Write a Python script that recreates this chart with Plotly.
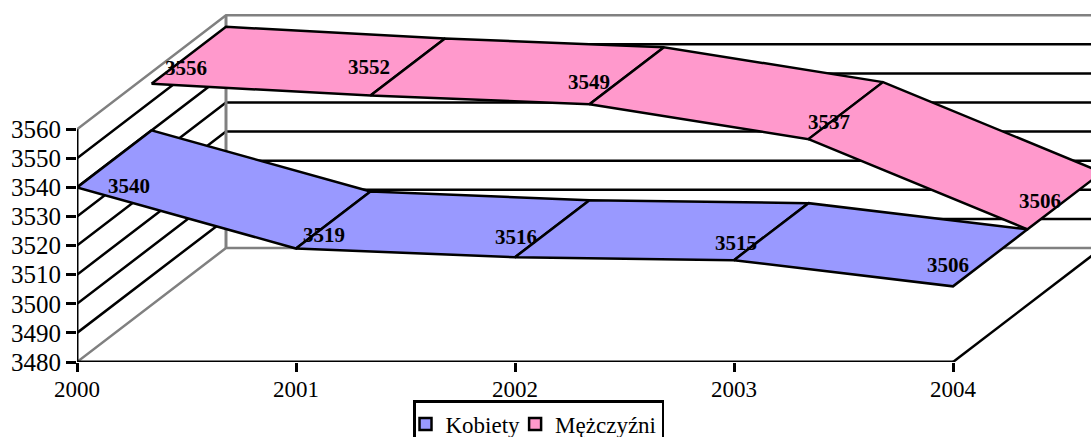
import plotly.graph_objects as go

years = ["2000", "2001", "2002", "2003", "2004"]
kobiety = [3540, 3519, 3516, 3515, 3506]
mezczyzni = [3556, 3552, 3549, 3537, 3506]
value_ticks = [3480, 3490, 3500, 3510, 3520, 3530, 3540, 3550, 3560]

# oblique projection of the depth axis, in axis units
PX_PER_CAT = 219.0
PX_PER_VAL = 2.91
DEPTH_X = 149 / PX_PER_CAT
DEPTH_Y = 114 / PX_PER_VAL
LEFT, BOTTOM_Y, W, H = 77, 362, 1091, 437

# pixel nudges of the data labels relative to the ribbon's front corner
shift_k = [(52, -1), (28, -14), (1, -20), (2, -17), (-5, -21)]
shift_m = [(34, -16), (-2, -28), (-1, -22), (20, -17), (12, -28)]

FONT = "Liberation Serif"
GRAY = "#808080"
BLACK = "#000000"


def proj(i, v, d):
    return i + d * DEPTH_X, v + d * DEPTH_Y


fig = go.Figure()


def line(pts, color=BLACK, width=2.5):
    xs, ys = zip(*pts)
    fig.add_trace(go.Scatter(x=xs, y=ys, mode="lines", showlegend=False,
                             hoverinfo="skip", cliponaxis=False,
                             line=dict(color=color, width=width)))


n = len(years)
lo, hi = value_ticks[0], value_ticks[-1]

# walls
for v in value_ticks:
    c = GRAY if v in (lo, hi) else BLACK
    line([proj(0, v, 0), proj(0, v, 1), proj(n - 1, v, 1)], c)
line([proj(0, lo, 1), proj(0, hi, 1)], GRAY, 3)
# front frame
line([proj(n - 1, lo, 0), proj(n - 1, lo, 1)])
line([proj(0, lo, 0), proj(0, hi, 0)], BLACK, 3)
line([proj(0, lo, 0), proj(n - 1, lo, 0)], BLACK, 3)


def ribbon(values, d0, d1, color):
    for i in range(n - 1):
        pts = [proj(i, values[i], d0), proj(i + 1, values[i + 1], d0),
               proj(i + 1, values[i + 1], d1), proj(i, values[i], d1),
               proj(i, values[i], d0)]
        xs, ys = zip(*pts)
        fig.add_trace(go.Scatter(x=xs, y=ys, mode="lines", fill="toself",
                                 fillcolor=color, showlegend=False,
                                 hoverinfo="skip", cliponaxis=False,
                                 line=dict(color=BLACK, width=2.5)))


ribbon(mezczyzni, 0.5, 1.0, "#FF99CC")
ribbon(kobiety, 0.0, 0.5, "#9999FF")

# legend
for name, color in (("Kobiety", "#9999FF"), ("Mężczyźni", "#FF99CC")):
    fig.add_trace(go.Scatter(x=[None], y=[None], mode="markers", name=name,
                             marker=dict(symbol="square", size=12, color=color,
                                         line=dict(color=BLACK, width=2.5))))

# data labels
for values, d, shifts in ((kobiety, 0.0, shift_k), (mezczyzni, 0.5, shift_m)):
    for i, v in enumerate(values):
        x, y = proj(i, v, d)
        fig.add_annotation(x=x, y=y, text=f"<b>{v}</b>", showarrow=False,
                           xshift=shifts[i][0], yshift=-shifts[i][1],
                           font=dict(family=FONT, size=21, color=BLACK))

fig.update_layout(
    width=W, height=H, autosize=False,
    margin=dict(l=LEFT, r=0, t=0, b=H - BOTTOM_Y, pad=0, autoexpand=False),
    paper_bgcolor="white", plot_bgcolor="white",
    font=dict(family=FONT, color=BLACK),
    legend=dict(x=(413 - LEFT) / (W - LEFT), y=(BOTTOM_Y - 400) / BOTTOM_Y,
                xanchor="left", yanchor="top", orientation="h", indentation=-10,
                borderwidth=2.5, bordercolor=BLACK, bgcolor="white",
                font=dict(family=FONT, size=23), itemclick=False),
    xaxis=dict(range=[0, (W - LEFT) / PX_PER_CAT], tickmode="array",
               tickvals=list(range(n)), ticktext=years, ticks="outside",
               ticklen=9, tickwidth=2.5, tickcolor=BLACK, showgrid=False,
               zeroline=False, showline=False, ticklabelstandoff=-3,
               tickfont=dict(family=FONT, size=23, color=BLACK)),
    yaxis=dict(range=[lo, lo + BOTTOM_Y / PX_PER_VAL], tickmode="array",
               tickvals=value_ticks, ticktext=[str(v) for v in value_ticks],
               ticks="outside", ticklen=10, tickwidth=2.5, tickcolor=BLACK,
               showgrid=False, zeroline=False, showline=False,
               tickfont=dict(family=FONT, size=25, color=BLACK)),
)

fig.write_html("out.html", config={"displayModeBar": False},
               post_script="document.body.style.margin='0';document.body.style.overflow='hidden';")
